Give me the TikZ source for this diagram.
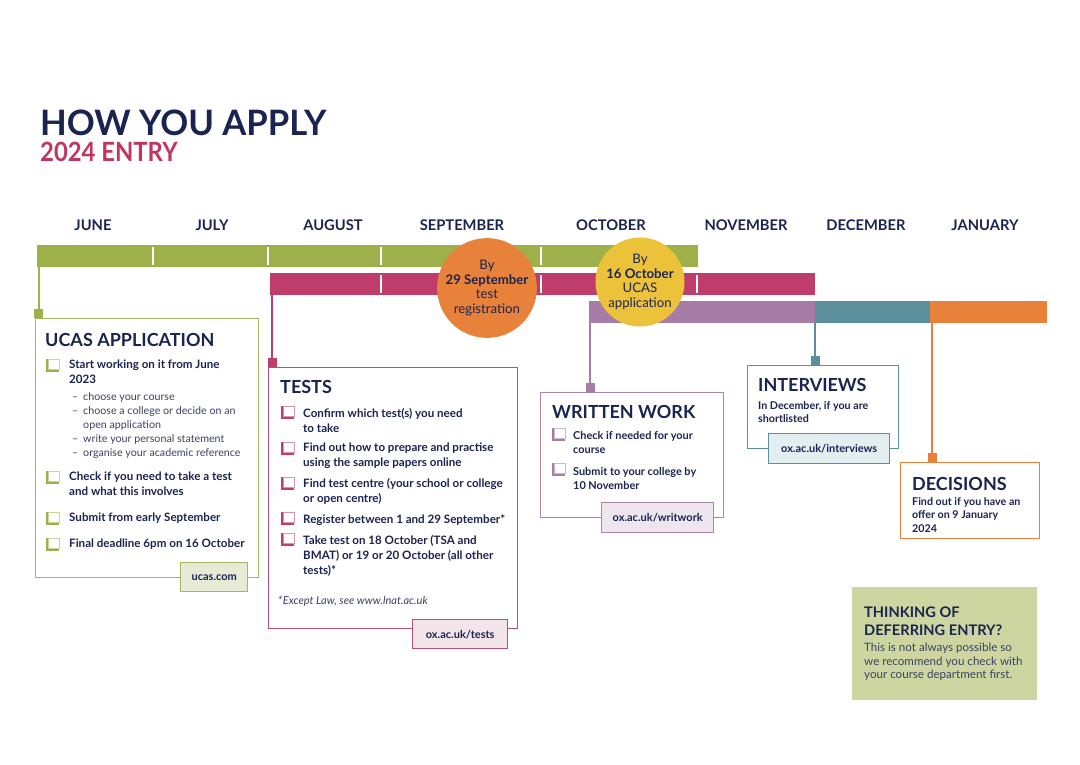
\documentclass[tikz,border=0pt]{standalone}
\usepackage{fontspec}
\setmainfont{Lato}
\definecolor{navy}{HTML}{1B2450}
\definecolor{subc}{HTML}{3C4263}
\definecolor{titlered}{HTML}{C23560}
\definecolor{gcol}{HTML}{9DB04A}
\definecolor{gbox}{HTML}{A6B55E}
\definecolor{gtab}{HTML}{E7EBD5}
\definecolor{mcol}{HTML}{BF3D6B}
\definecolor{mbox}{HTML}{BC5078}
\definecolor{mtab}{HTML}{F3E4EA}
\definecolor{pcol}{HTML}{A77CA6}
\definecolor{pbox}{HTML}{AA85A9}
\definecolor{ptab}{HTML}{EEE6EE}
\definecolor{tcol}{HTML}{5B8F9B}
\definecolor{ttab}{HTML}{E3EEF1}
\definecolor{ocol}{HTML}{E8823A}
\definecolor{ycol}{HTML}{EDC23B}
\definecolor{defer}{HTML}{CDD6A1}
\newcommand{\ckbox}[3]{%
  \fill[#1] (#2,#3) rectangle ++(13,13);
  \filldraw[fill=white, draw=#1!55, line width=0.5pt] (#2+2.6,#3) rectangle ++(10.4,10.4);}
\begin{document}
\begin{tikzpicture}[x=1pt,y=-1pt,
  box/.style={draw=#1, line width=1.4pt, fill=white, anchor=north west, inner sep=0},
  tab/.style 2 args={draw=#1, fill=#2, line width=1.4pt, anchor=north west, inner sep=0, text=navy, font=\bfseries\fontsize{11}{12}\selectfont},
  bar/.style={fill=#1, anchor=north west, inner sep=0, minimum height=22pt},
  sepline/.style={white, line width=1.6pt},
  sq/.style={fill=#1, minimum size=9pt, inner sep=0, anchor=south},
  conn/.style={draw=#1, line width=2pt},
  item/.style={anchor=north west, inner sep=0, align=left, text=navy, font=\bfseries\fontsize{11.6}{15}\selectfont},
  subitem/.style={anchor=north west, inner sep=0, align=left, text=subc, font=\fontsize{10.7}{14}\selectfont},
  head/.style={anchor=north west, inner sep=0, text=navy, font=\bfseries\fontsize{18}{18}\selectfont},
  month/.style={text=navy, font=\bfseries\fontsize{14.7}{14.7}\selectfont, inner sep=0},
  circ/.style={circle, fill=#1, minimum size=89pt, inner sep=0, align=center, text=navy, font=\fontsize{13.2}{14.7}\selectfont},
]
\useasboundingbox (0,0) rectangle (1080,764);
\fill[white] (0,0) rectangle (1080,764);

% title
\node[anchor=north west, inner sep=0, text=navy, font=\bfseries\fontsize{35}{35}\selectfont] (title) at (40,110) {\scalebox{0.99}[1]{HOW YOU APPLY}};
\node[anchor=north west, inner sep=0, text=titlered, font=\bfseries\fontsize{26.5}{26.5}\selectfont] (subtitle) at (40,142) {\scalebox{0.9}[1]{2024 ENTRY}};

% months
\node[month] (m1) at (93,225) {JUNE};
\node[month] (m2) at (212,225) {JULY};
\node[month] (m3) at (333,225) {AUGUST};
\node[month] (m4) at (462,225) {SEPTEMBER};
\node[month] (m5) at (611,225) {OCTOBER};
\node[month] (m6) at (746,225) {NOVEMBER};
\node[month] (m7) at (866,225) {DECEMBER};
\node[month] (m8) at (985,225) {JANUARY};

% bars
\node[bar=gcol, minimum width=661pt] (gbar) at (37,245) {};
\node[bar=mcol, minimum width=545pt] (mbar) at (270,273) {};
\node[bar=pcol, minimum width=226pt] (pbar) at (589,301) {};
\node[bar=tcol, minimum width=115pt] (tbar) at (815,301) {};
\node[bar=ocol, minimum width=117pt] (obar) at (930,301) {};
\foreach \x in {153,268,381,541} \draw[sepline] (\x,247) -- (\x,265);
\foreach \x in {381,541,697} \draw[sepline] (\x,275) -- (\x,293);

% circles
\node[circ=ocol] (c1) at (487,288) {By\\\textbf{29 September}\\test\\registration};
\node[circ=ycol] (c2) at (640,282) {By\\\textbf{16 October}\\UCAS\\application};

% connector squares and lines
\node[sq=gcol] (s1) at (38.5,318) {};
\node[sq=mcol] (s2) at (272,367) {};
\node[sq=pcol] (s3) at (590,392) {};
\node[sq=tcol] (s4) at (815,365) {};
\node[sq=ocol] (s5) at (932,462) {};
\draw[conn=gcol] (s1.center |- gbar.south) -- (s1.north);
\draw[conn=mcol] (s2.center |- mbar.south) -- (s2.north);
\draw[conn=pcol] (s3.center |- pbar.south) -- (s3.north);
\draw[conn=tcol] (s4.center |- tbar.south) -- (s4.north);
\draw[conn=ocol] (s5.center |- obar.south) -- (s5.north);

% UCAS box
\node[box=gbox, minimum width=223pt, minimum height=259pt] (ucas) at (35,318) {};
\node[tab={gbox}{gtab}, minimum width=67pt, minimum height=29pt] (ucastab) at (180,562) {ucas.com};
\node[head] (ucash) at (45,333) {UCAS APPLICATION};
\ckbox{gcol}{46}{359}
\node[item] (u1) at (69,360) {Start working on it from June\\2023};
\node[subitem] (u1s) at (72,392) {\makebox[11pt][l]{–}choose your course\\\makebox[11pt][l]{–}choose a college or decide on an\\\hspace*{11pt}open application\\\makebox[11pt][l]{–}write your personal statement\\\makebox[11pt][l]{–}organise your academic reference};
\ckbox{gcol}{46}{471}
\node[item] (u2) at (69,472) {Check if you need to take a test\\and what this involves};
\ckbox{gcol}{46}{512}
\node[item] (u3) at (69,513) {Submit from early September};
\ckbox{gcol}{46}{538}
\node[item] (u4) at (69,539) {Final deadline 6pm on 16 October};

% TESTS box
\node[box=mbox, minimum width=249pt, minimum height=261pt] (tests) at (268,367) {};
\node[tab={mbox}{mtab}, minimum width=95pt, minimum height=29pt] (teststab) at (412,619) {ox.ac.uk/tests};
\node[head] (testsh) at (280,380) {TESTS};
\ckbox{mcol}{281}{406}
\node[item] (t1) at (303,408) {Confirm which test(s) you need\\to take};
\ckbox{mcol}{281}{442}
\node[item] (t2) at (303,443) {Find out how to prepare and practise\\using the sample papers online};
\ckbox{mcol}{281}{477}
\node[item] (t3) at (303,478) {Find test centre (your school or college\\or open centre)};
\ckbox{mcol}{281}{512}
\node[item] (t4) at (303,514) {Register between 1 and 29 September*};
\ckbox{mcol}{281}{533}
\node[item] (t5) at (303,535) {Take test on 18 October (TSA and\\BMAT) or 19 or 20 October (all other\\tests)*};
\node[anchor=north west, inner sep=0, text=subc, font=\fontsize{11}{12}\selectfont] (tfoot) at (278,596) {*\textit{Except Law, see www.lnat.ac.uk}};

% WRITTEN WORK box
\node[box=pbox, minimum width=183pt, minimum height=125pt] (ww) at (540,392) {};
\node[tab={pbox}{ptab}, minimum width=112pt, minimum height=30pt] (wwtab) at (601,502) {ox.ac.uk/writwork};
\node[head] (wwh) at (552,405) {WRITTEN WORK};
\ckbox{pcol}{552}{428}
\node[item, font=\bfseries\fontsize{10.9}{14.5}\selectfont] (w1) at (573,431) {Check if needed for your\\course};
\ckbox{pcol}{552}{463}
\node[item, font=\bfseries\fontsize{10.9}{14.5}\selectfont] (w2) at (573,467) {Submit to your college by\\10 November};

% INTERVIEWS box
\node[box=tcol, minimum width=151pt, minimum height=83pt] (iv) at (747,365) {};
\node[tab={tcol}{ttab}, minimum width=121pt, minimum height=30pt] (ivtab) at (768,433) {ox.ac.uk/interviews};
\node[head] (ivh) at (758,378) {INTERVIEWS};
\node[item, font=\bfseries\fontsize{10.7}{13}\selectfont] (i1) at (758,401) {In December, if you are\\shortlisted};

% DECISIONS box
\node[box=ocol, minimum width=139pt, minimum height=76pt] (dec) at (900,462) {};
\node[head] (dech) at (912,477) {DECISIONS};
\node[item, font=\bfseries\fontsize{10.7}{13.5}\selectfont] (d1) at (912,497) {Find out if you have an\\offer on 9 January\\2024};

% DEFERRING box
\node[fill=defer, anchor=north west, inner sep=0, minimum width=185pt, minimum height=113pt] (def) at (852,587) {};
\node[anchor=north west, inner sep=0, align=left, text=navy, font=\bfseries\fontsize{14.6}{18}\selectfont] (defh) at (864,607) {THINKING OF\\DEFERRING ENTRY?};
\node[anchor=north west, inner sep=0, align=left, text=subc, font=\fontsize{11.6}{13.5}\selectfont] (defb) at (864,643) {This is not always possible so\\we recommend you check with\\your course department first.};
\end{tikzpicture}
\end{document}
